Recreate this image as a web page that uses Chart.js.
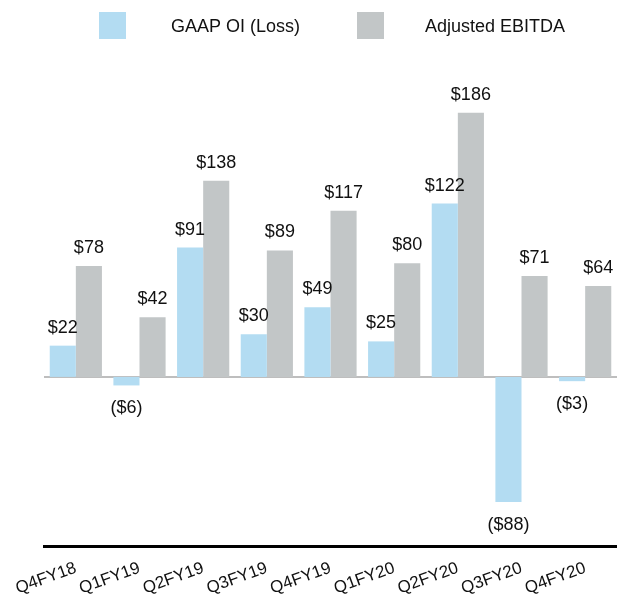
<!DOCTYPE html>
<html>
<head>
<meta charset="utf-8">
<script src="https://cdn.jsdelivr.net/npm/chart.js@4.4.0/dist/chart.umd.min.js"></script>
<style>
  html, body { margin: 0; padding: 0; background: #fff; }
  #wrap { width: 617px; height: 596px; position: relative; }
</style>
</head>
<body>
<div id="wrap"><canvas id="oiChart"></canvas></div>
<script>
// quarters and values ($M)
const quarters = ['Q4FY18', 'Q1FY19', 'Q2FY19', 'Q3FY19', 'Q4FY19', 'Q1FY20', 'Q2FY20', 'Q3FY20', 'Q4FY20'];
const gaapOI = [22, -6, 91, 30, 49, 25, 122, -88, -3];
const adjEbitda = [78, 42, 138, 89, 117, 80, 186, 71, 64];
const seriesNames = ['GAAP OI (Loss)', 'Adjusted EBITDA'];

const blue = '#b3dcf2';
const grey = '#c2c6c7';
const font = 'Liberation Sans, Arial, sans-serif';

function fmt(v) {
    return v < 0 ? '($' + Math.abs(v) + ')' : '$' + v;
}

// zero line behind the bars
const zeroLine = {
    id: 'zeroLine',
    beforeDatasetsDraw(chart) {
        const { ctx, chartArea, scales } = chart;
        const y = scales.y.getPixelForValue(0);
        ctx.save();
        ctx.strokeStyle = '#a8a8a8';
        ctx.lineWidth = 1.5;
        ctx.beginPath();
        ctx.moveTo(chartArea.left, y);
        ctx.lineTo(chartArea.right, y);
        ctx.stroke();
        ctx.restore();
    }
};

// value labels over / under each bar
const barLabels = {
    id: 'barLabels',
    afterDatasetsDraw(chart) {
        const ctx = chart.ctx;
        ctx.save();
        ctx.font = '18px ' + font;
        ctx.fillStyle = '#111';
        ctx.textAlign = 'center';
        ctx.textBaseline = 'alphabetic';
        chart.data.datasets.forEach((ds, i) => {
            chart.getDatasetMeta(i).data.forEach((bar, j) => {
                const v = ds.data[j];
                const y = v < 0 ? bar.y + 28 : bar.y - 13;
                ctx.fillText(fmt(v), bar.x, y);
            });
        });
        ctx.restore();
    }
};

// legend drawn by hand so the gaps match
const topLegend = {
    id: 'topLegend',
    afterDraw(chart) {
        const ctx = chart.ctx;
        const items = [
            { color: blue, boxX: 99, textX: 171, text: seriesNames[0] },
            { color: grey, boxX: 357, textX: 425, text: seriesNames[1] }
        ];
        ctx.save();
        ctx.font = '18px ' + font;
        ctx.textBaseline = 'middle';
        ctx.textAlign = 'left';
        items.forEach(it => {
            ctx.fillStyle = it.color;
            ctx.fillRect(it.boxX, 12, 27, 27);
            ctx.fillStyle = '#111';
            ctx.fillText(it.text, it.textX, 27);
        });
        ctx.restore();
    }
};

new Chart(document.getElementById('oiChart'), {
    type: 'bar',
    data: {
        labels: quarters,
        datasets: [
            { label: seriesNames[0], data: gaapOI, backgroundColor: blue },
            { label: seriesNames[1], data: adjEbitda, backgroundColor: grey }
        ]
    },
    options: {
        responsive: true,
        maintainAspectRatio: false,
        animation: false,
        layout: { padding: { top: 70, left: 44, right: 0, bottom: 0 } },
        plugins: {
            legend: { display: false },
            tooltip: { enabled: false }
        },
        datasets: {
            bar: { barPercentage: 1, categoryPercentage: 0.82 }
        },
        scales: {
            x: {
                grid: { display: false, drawTicks: false },
                border: { color: '#000', width: 3 },
                ticks: {
                    color: '#111',
                    font: { family: font, size: 17 },
                    minRotation: 20,
                    maxRotation: 20,
                    autoSkip: false,
                    padding: 12
                },
                afterFit(scale) {
                    scale.height = 50;
                    scale.paddingLeft = 0;
                }
            },
            y: {
                display: false,
                min: -119,
                max: 216
            }
        }
    },
    plugins: [zeroLine, barLabels, topLegend]
});
</script>
</body>
</html>
